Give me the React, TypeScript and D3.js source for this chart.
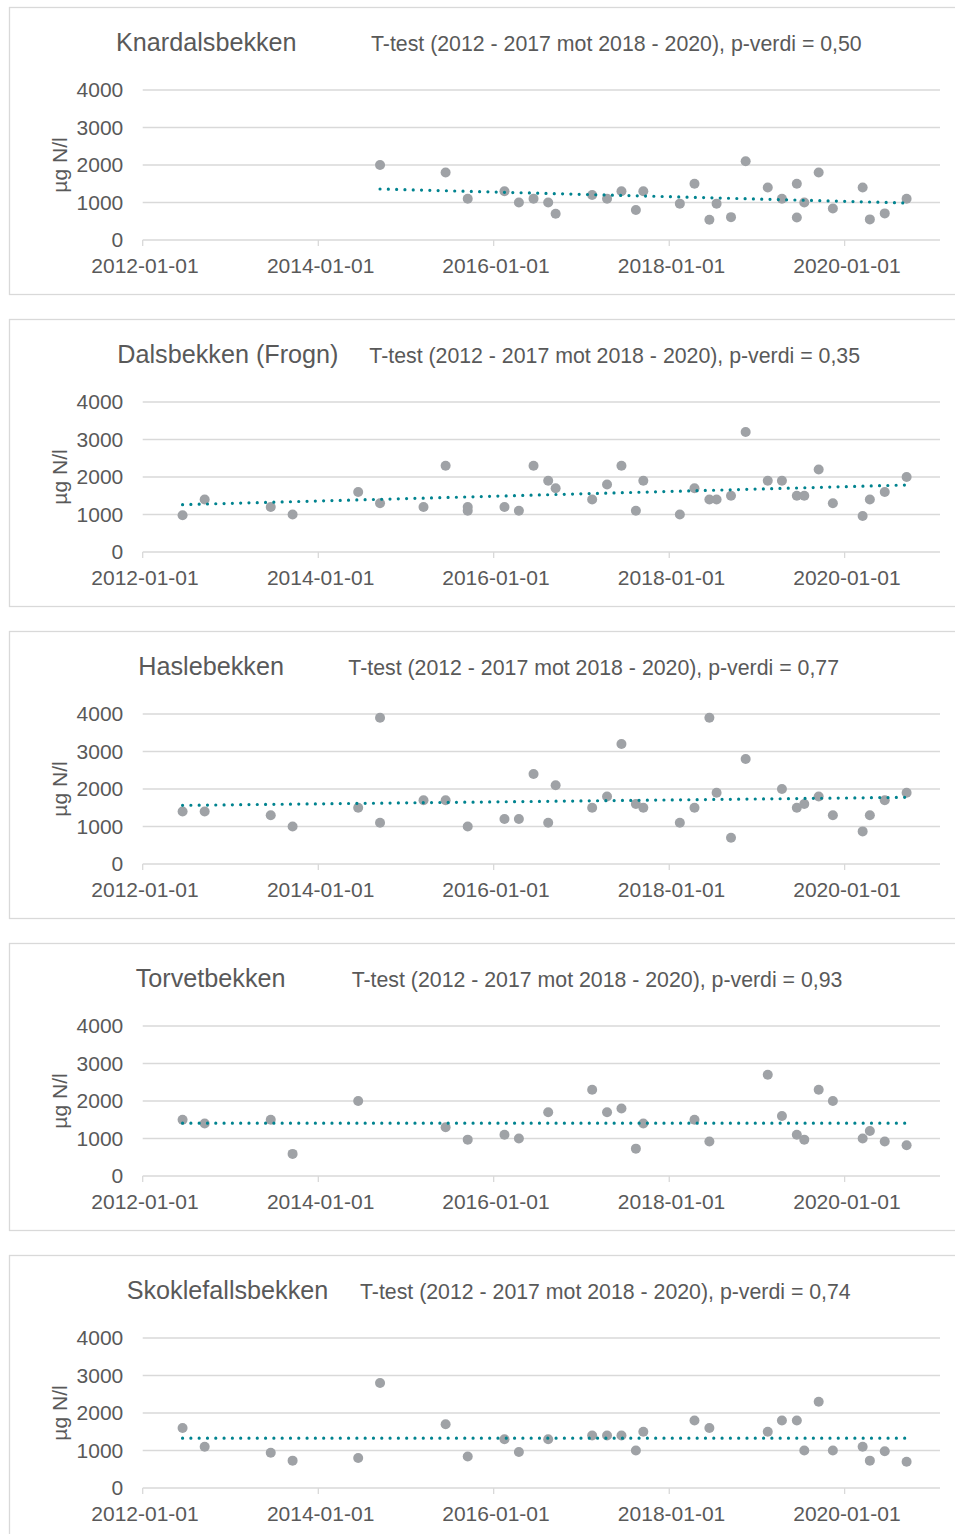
import * as d3 from "d3";
import { useEffect, useRef } from "react";

// stations and t-test results
const stations = ["Knardalsbekken", "Dalsbekken (Frogn)", "Haslebekken", "Torvetbekken", "Skoklefallsbekken"];
const pValues = ["0,50", "0,35", "0,77", "0,93", "0,74"];

const knardalDates = [
  "2014-09-15", "2015-06-15", "2015-09-15", "2016-02-15", "2016-04-15", "2016-06-15", "2016-08-15", "2016-09-15",
  "2017-02-14", "2017-04-17", "2017-06-16", "2017-08-15", "2017-09-15", "2018-02-14", "2018-04-16", "2018-06-17",
  "2018-07-17", "2018-09-15", "2018-11-15", "2019-02-15", "2019-04-15", "2019-06-16", "2019-06-16", "2019-07-17",
  "2019-09-15", "2019-11-13", "2020-03-16", "2020-04-15", "2020-06-16", "2020-09-15",
];
const knardalValues = [
  2000, 1800, 1100, 1300, 1000, 1100, 1000, 700,
  1200, 1100, 1300, 800, 1300, 970, 1500, 540,
  970, 610, 2100, 1400, 1100, 1500, 600, 1000,
  1800, 840, 1400, 550, 710, 1100,
];

const dalsDates = [
  "2012-06-15", "2012-09-15", "2013-06-17", "2013-09-16", "2014-06-16", "2014-09-15", "2015-03-15", "2015-06-15",
  "2015-09-15", "2015-09-15", "2016-02-15", "2016-04-15", "2016-06-15", "2016-08-15", "2016-09-15", "2017-02-14",
  "2017-04-17", "2017-06-16", "2017-08-15", "2017-09-15", "2018-02-14", "2018-04-16", "2018-06-17", "2018-07-17",
  "2018-09-15", "2018-11-15", "2019-02-15", "2019-04-15", "2019-06-16", "2019-07-17", "2019-09-15", "2019-11-13",
  "2020-03-16", "2020-04-15", "2020-06-16", "2020-09-15",
];
const dalsValues = [
  980, 1400, 1200, 1000, 1600, 1300, 1200, 2300,
  1200, 1100, 1200, 1100, 2300, 1900, 1700, 1400,
  1800, 2300, 1100, 1900, 1000, 1700, 1400, 1400,
  1500, 3200, 1900, 1900, 1500, 1500, 2200, 1300,
  960, 1400, 1600, 2000,
];

const hasleDates = [
  "2012-06-15", "2012-09-15", "2013-06-17", "2013-09-16", "2014-06-16", "2014-09-15", "2014-09-15", "2015-03-15",
  "2015-06-15", "2015-09-15", "2016-02-15", "2016-04-15", "2016-06-15", "2016-08-15", "2016-09-15", "2017-02-14",
  "2017-04-17", "2017-06-16", "2017-08-15", "2017-09-15", "2018-02-14", "2018-04-16", "2018-06-17", "2018-07-17",
  "2018-09-15", "2018-11-15", "2019-04-15", "2019-06-16", "2019-07-17", "2019-09-15", "2019-11-13", "2020-03-16",
  "2020-04-15", "2020-06-16", "2020-09-15",
];
const hasleValues = [
  1400, 1400, 1300, 1000, 1500, 3900, 1100, 1700,
  1700, 1000, 1200, 1200, 2400, 1100, 2100, 1500,
  1800, 3200, 1600, 1500, 1100, 1500, 3900, 1900,
  700, 2800, 2000, 1500, 1600, 1800, 1300, 870,
  1300, 1700, 1900,
];

const torvetDates = [
  "2012-06-15", "2012-09-15", "2013-06-17", "2013-09-16", "2014-06-16", "2015-06-15", "2015-09-15", "2016-02-15",
  "2016-04-15", "2016-08-15", "2017-02-14", "2017-04-17", "2017-06-16", "2017-08-15", "2017-09-15", "2018-04-16",
  "2018-06-17", "2019-02-15", "2019-04-15", "2019-06-16", "2019-07-17", "2019-09-15", "2019-11-13", "2020-03-16",
  "2020-04-15", "2020-06-16", "2020-09-15",
];
const torvetValues = [
  1500, 1400, 1500, 590, 2000, 1300, 970, 1100,
  1000, 1700, 2300, 1700, 1800, 730, 1400, 1500,
  920, 2700, 1600, 1100, 970, 2300, 2000, 1000,
  1200, 920, 820,
];

const skokleDates = [
  "2012-06-15", "2012-09-15", "2013-06-17", "2013-09-16", "2014-06-16", "2014-09-15", "2015-06-15", "2015-09-15",
  "2016-02-15", "2016-04-15", "2016-08-15", "2017-02-14", "2017-04-17", "2017-06-16", "2017-08-15", "2017-09-15",
  "2018-04-16", "2018-06-17", "2019-02-15", "2019-04-15", "2019-06-16", "2019-07-17", "2019-09-15", "2019-11-13",
  "2020-03-16", "2020-04-15", "2020-06-16", "2020-09-15",
];
const skokleValues = [
  1600, 1100, 940, 730, 800, 2800, 1700, 840,
  1300, 960, 1300, 1400, 1400, 1400, 1000, 1500,
  1800, 1600, 1500, 1800, 1800, 1000, 2300, 1000,
  1100, 730, 980, 700,
];

const seriesDates = [knardalDates, dalsDates, hasleDates, torvetDates, skokleDates];
const seriesValues = [knardalValues, dalsValues, hasleValues, torvetValues, skokleValues];

// linear trendline, value at first and last sample
const trendFrom = [1360, 1262, 1564, 1410, 1330];
const trendTo = [987, 1787, 1778, 1410, 1330];

const yTicks = [0, 1000, 2000, 3000, 4000];
const xTicks = ["2012-01-01", "2014-01-01", "2016-01-01", "2018-01-01", "2020-01-01"];

// title placement (start x of station name and of the t-test text)
const nameX = [116, 117.3, 138.3, 135.7, 126.7];
const testX = [371, 369.3, 348.3, 351.7, 360];

const font = "Arial, 'Liberation Sans', sans-serif";
const textColor = "#595959";
const gridColor = "#d9d9d9";

function App() {
  const ref = useRef<SVGSVGElement>(null);

  useEffect(() => {
    document.body.style.margin = "0";
    const svg = d3.select(ref.current);
    svg.selectAll("*").remove();

    const parse = d3.timeParse("%Y-%m-%d");
    const fmt = d3.timeFormat("%Y-%m-%d");

    const x = d3
      .scaleTime()
      .domain([parse("2012-01-01") as Date, parse("2021-02-01") as Date])
      .range([142.7, 940]);
    const y = d3.scaleLinear().domain([0, 4000]).range([240, 90]);

    stations.forEach((name, i) => {
      const g = svg.append("g").attr("transform", `translate(0, ${i * 312})`);

      // frame
      g.append("rect")
        .attr("x", 9.5)
        .attr("y", 7.5)
        .attr("width", 960)
        .attr("height", 287)
        .attr("fill", "#fff")
        .attr("stroke", gridColor)
        .attr("stroke-width", 1.3);

      // gridlines
      g.selectAll(".grid")
        .data(yTicks)
        .join("line")
        .attr("class", "grid")
        .attr("x1", 142.7)
        .attr("x2", 940)
        .attr("y1", (d) => y(d))
        .attr("y2", (d) => y(d))
        .attr("stroke", gridColor)
        .attr("stroke-width", 1.3);

      g.selectAll(".ylab")
        .data(yTicks)
        .join("text")
        .attr("class", "ylab")
        .attr("x", 123.3)
        .attr("y", (d) => y(d))
        .attr("dy", "0.35em")
        .attr("text-anchor", "end")
        .attr("font-family", font)
        .attr("font-size", 21)
        .attr("fill", textColor)
        .text((d) => d);

      // x ticks
      const dates = xTicks.map((t) => parse(t) as Date);
      g.selectAll(".xtick")
        .data(dates)
        .join("line")
        .attr("class", "xtick")
        .attr("x1", (d) => x(d))
        .attr("x2", (d) => x(d))
        .attr("y1", 240)
        .attr("y2", 246)
        .attr("stroke", gridColor)
        .attr("stroke-width", 1.3);

      g.selectAll(".xlab")
        .data(dates)
        .join("text")
        .attr("class", "xlab")
        .attr("x", (d) => x(d) + 2.3)
        .attr("y", 273.3)
        .attr("text-anchor", "middle")
        .attr("font-family", font)
        .attr("font-size", 21)
        .attr("fill", textColor)
        .text((d) => fmt(d));

      // axis title
      g.append("text")
        .attr("transform", "translate(66.7, 165) rotate(-90)")
        .attr("text-anchor", "middle")
        .attr("font-family", font)
        .attr("font-size", 21)
        .attr("fill", textColor)
        .text("µg N/l");

      // chart title
      g.append("text")
        .attr("x", nameX[i])
        .attr("y", 50.7)
        .attr("font-family", font)
        .attr("font-size", 25.2)
        .attr("fill", textColor)
        .text(name);
      g.append("text")
        .attr("x", testX[i])
        .attr("y", 50.7)
        .attr("font-family", font)
        .attr("font-size", 21.3)
        .attr("fill", textColor)
        .text(`T-test (2012 - 2017 mot 2018 - 2020), p-verdi = ${pValues[i]}`);

      // samples
      const pts = seriesDates[i].map((d, j) => ({ date: parse(d) as Date, value: seriesValues[i][j] }));
      g.selectAll(".pt")
        .data(pts)
        .join("circle")
        .attr("class", "pt")
        .attr("cx", (d) => x(d.date))
        .attr("cy", (d) => y(d.value))
        .attr("r", 5)
        .attr("fill", "#9fa2a6");

      // trendline
      const trend: [Date, number][] = [
        [pts[0].date, trendFrom[i]],
        [pts[pts.length - 1].date, trendTo[i]],
      ];
      const line = d3
        .line<[Date, number]>()
        .x((d) => x(d[0]))
        .y((d) => y(d[1]));
      g.append("path")
        .attr("d", line(trend))
        .attr("fill", "none")
        .attr("stroke", "#00838f")
        .attr("stroke-width", 3.2)
        .attr("stroke-linecap", "round")
        .attr("stroke-dasharray", "0 8.3");
    });

    return () => {
      svg.selectAll("*").remove();
    };
  }, []);

  return <svg ref={ref} width={955} height={1534} style={{ display: "block" }} />;
}

export default App;
